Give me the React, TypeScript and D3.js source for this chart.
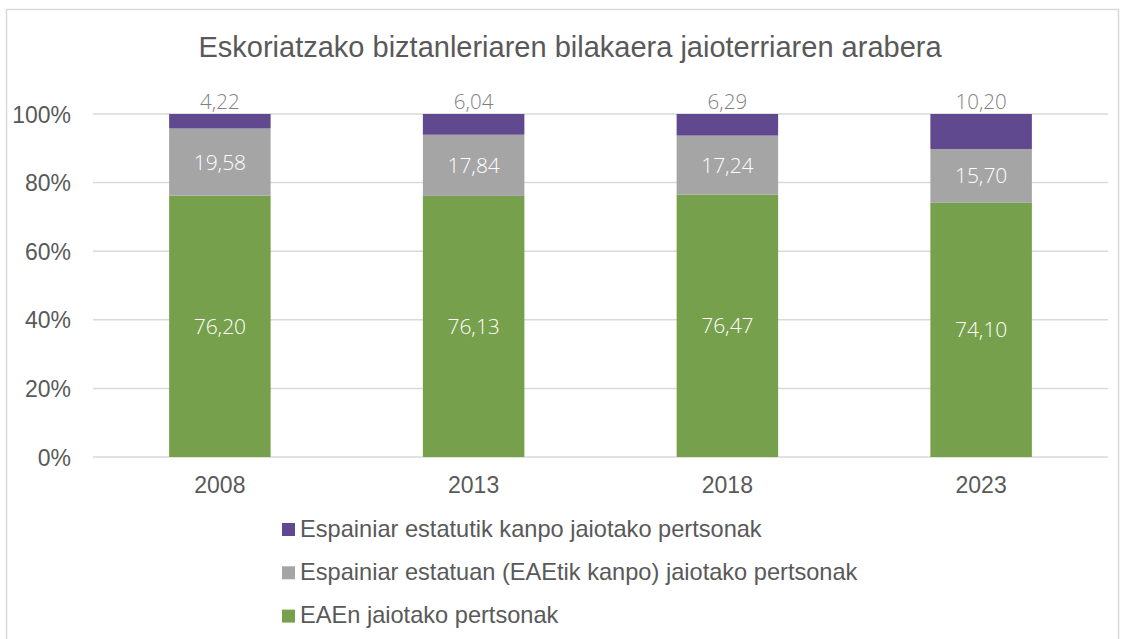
import React from "react";
import * as d3 from "d3";

const years = ["2008", "2013", "2018", "2023"];
const eaeValues = [76.2, 76.13, 76.47, 74.1];
const statuanValues = [19.58, 17.84, 17.24, 15.7];
const kanpoValues = [4.22, 6.04, 6.29, 10.2];
const seriesNames = [
  "EAEn jaiotako pertsonak",
  "Espainiar estatuan (EAEtik kanpo) jaiotako pertsonak",
  "Espainiar estatutik kanpo jaiotako pertsonak",
];
const seriesColors = ["#77a04c", "#a5a5a5", "#60498f"];
const yTicks = [0, 0.2, 0.4, 0.6, 0.8, 1];

const W = 1126;
const H = 639;

export default function App() {
  const rows = years.map((y, i) => ({
    year: y,
    s0: eaeValues[i],
    s1: statuanValues[i],
    s2: kanpoValues[i],
  }));
  const keys = ["s0", "s1", "s2"];
  const stacked = d3.stack<any>().keys(keys).offset(d3.stackOffsetExpand)(rows);

  const x = d3.scaleBand().domain(years).range([93, 1108]).paddingInner(0.6).paddingOuter(0.3);
  const y = d3.scaleLinear().domain([0, 1]).range([457, 114]);
  const fmt = (v: number) => v.toFixed(2).replace(".", ",");
  const axisFont = "'Liberation Sans', Arial, sans-serif";
  const labelFont = "'Open Sans', 'Noto Sans', sans-serif";

  // legend lists the top series first
  const legendOrder = [2, 1, 0];

  return (
    <svg width={W} height={H} style={{ position: "absolute", left: 0, top: 0 }}>
      <rect x={0} y={0} width={W} height={H} fill="#fff" />
      <rect x={6.5} y={9.5} width={1112} height={640} fill="#fff" stroke="#d9d9d9" strokeWidth={1.5} />
      <text x={570} y={56.5} textAnchor="middle" fontFamily={axisFont} fontSize={29} fill="#595959">
        Eskoriatzako biztanleriaren bilakaera jaioterriaren arabera
      </text>
      {yTicks.map((t) => (
        <g key={t}>
          <line x1={93} x2={1108} y1={y(t)} y2={y(t)} stroke="#d9d9d9" strokeWidth={1.5} />
          <text x={71} y={y(t) + 8.5} textAnchor="end" fontFamily={axisFont} fontSize={23} fill="#595959">
            {Math.round(t * 100)}%
          </text>
        </g>
      ))}
      {stacked.map((layer, li) => (
        <g key={li}>
          {layer.map((d, i) => {
            const bx = x(years[i])!;
            const y0 = y(d[0]);
            const y1 = y(d[1]);
            return (
              <rect key={i} x={bx} y={y1} width={x.bandwidth()} height={y0 - y1} fill={seriesColors[li]} />
            );
          })}
        </g>
      ))}
      {stacked.map((layer, li) =>
        layer.map((d, i) => {
          const cx = x(years[i])! + x.bandwidth() / 2;
          const v = (d.data as any)[keys[li]] as number;
          const top = li === 2;
          const ty = top ? y(d[1]) - 5 : (y(d[0]) + y(d[1])) / 2 + 7.5;
          return (
            <text
              key={`${li}-${i}`}
              x={cx}
              y={ty}
              textAnchor="middle"
              fontFamily={labelFont}
              fontWeight={300}
              fontSize={top ? 20.5 : 21}
              fill={top ? "#7f7f7f" : "#ffffff"}
            >
              {fmt(v)}
            </text>
          );
        })
      )}
      {years.map((yr) => (
        <text
          key={yr}
          x={x(yr)! + x.bandwidth() / 2}
          y={493}
          textAnchor="middle"
          fontFamily={axisFont}
          fontSize={23}
          fill="#595959"
        >
          {yr}
        </text>
      ))}
      {legendOrder.map((si, k) => {
        const base = 536.5 + k * 43.3;
        return (
          <g key={si}>
            <rect x={282} y={base - 13.5} width={13} height={13} fill={seriesColors[si]} />
            <text x={300} y={base} fontFamily={axisFont} fontSize={23.6} fill="#595959">
              {seriesNames[si]}
            </text>
          </g>
        );
      })}
    </svg>
  );
}
